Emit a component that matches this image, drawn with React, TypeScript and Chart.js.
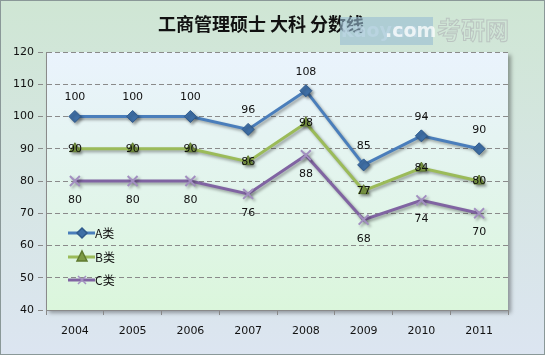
import React, { useEffect, useRef } from "react";
import { Chart, registerables } from "chart.js";

Chart.register(...registerables);

const categories = ["2004", "2005", "2006", "2007", "2008", "2009", "2010", "2011"];
const seriesA = [100, 100, 100, 96, 108, 85, 94, 90];
const seriesB = [90, 90, 90, 86, 98, 77, 84, 80];
const seriesC = [80, 80, 80, 76, 88, 68, 74, 70];
const seriesNames = ["A类", "B类", "C类"];
const titleText = "工商管理硕士 大科 分数线";
const yMin = 40;
const yMax = 120;
const yStep = 10;

const FONT = "'DejaVu Sans', sans-serif";

const bgPlugin = {
  id: "bgPlugin",
  beforeDraw(chart: any) {
    const { ctx, width, height, chartArea } = chart;
    ctx.save();
    const g = ctx.createLinearGradient(0, 0, 0, height);
    g.addColorStop(0, "#cfe6d4");
    g.addColorStop(1, "#dce5f1");
    ctx.fillStyle = g;
    ctx.fillRect(0, 0, width, height);
    ctx.strokeStyle = "#8a9898";
    ctx.lineWidth = 1;
    ctx.strokeRect(0.5, 0.5, width - 1, height - 1);
    const { left, top, right, bottom } = chartArea;
    ctx.shadowColor = "rgba(0,0,0,0.35)";
    ctx.shadowOffsetX = 3;
    ctx.shadowOffsetY = 3;
    ctx.shadowBlur = 4;
    const pg = ctx.createLinearGradient(0, top, 0, bottom);
    pg.addColorStop(0, "#eaf3fd");
    pg.addColorStop(1, "#dbf6dc");
    ctx.fillStyle = pg;
    ctx.fillRect(left, top, right - left, bottom - top);
    ctx.restore();
    ctx.save();
    ctx.fillStyle = "#111";
    ctx.font = "bold 18px 'Noto Sans CJK SC', sans-serif";
    ctx.textAlign = "center";
    ctx.textBaseline = "middle";
    ctx.fillText(titleText, 261, 24);
    ctx.restore();
  },
  beforeDatasetDraw(chart: any) {
    const ctx = chart.ctx;
    ctx.save();
    ctx.shadowColor = "rgba(0,0,0,0.35)";
    ctx.shadowOffsetX = 2;
    ctx.shadowOffsetY = 2;
    ctx.shadowBlur = 3;
  },
  afterDatasetDraw(chart: any) {
    chart.ctx.restore();
  },
  afterDatasetsDraw(chart: any) {
    const { ctx, chartArea } = chart;
    const offsets = [-19, 0, 19];
    ctx.save();
    ctx.font = "11px " + FONT;
    ctx.fillStyle = "#111";
    ctx.textAlign = "center";
    ctx.textBaseline = "middle";
    chart.data.datasets.forEach((ds: any, i: number) => {
      const meta = chart.getDatasetMeta(i);
      meta.data.forEach((pt: any, j: number) => {
        ctx.fillText(String(ds.data[j]), pt.x, pt.y + offsets[i]);
      });
    });
    const lx = chartArea.left + 22;
    const ys = [233, 257, 280];
    chart.data.datasets.forEach((ds: any, i: number) => {
      const y = ys[i];
      ctx.save();
      ctx.strokeStyle = ds.borderColor;
      ctx.lineWidth = 3;
      ctx.beginPath();
      ctx.moveTo(lx, y);
      ctx.lineTo(lx + 27, y);
      ctx.stroke();
      ctx.restore();
      const st = ds.pointStyle;
      ctx.save();
      ctx.fillStyle = ds.pointBackgroundColor;
      ctx.strokeStyle = ds.pointBorderColor;
      ctx.lineWidth = 1.5;
      const cx = lx + 14;
      const r = 5;
      ctx.beginPath();
      if (st === "rectRot") {
        ctx.moveTo(cx, y - r);
        ctx.lineTo(cx + r, y);
        ctx.lineTo(cx, y + r);
        ctx.lineTo(cx - r, y);
        ctx.closePath();
        ctx.fill();
        ctx.stroke();
      } else if (st === "triangle") {
        ctx.moveTo(cx, y - r - 1);
        ctx.lineTo(cx + r, y + r - 1);
        ctx.lineTo(cx - r, y + r - 1);
        ctx.closePath();
        ctx.fill();
        ctx.stroke();
      } else {
        ctx.moveTo(cx - 4, y - 4);
        ctx.lineTo(cx + 4, y + 4);
        ctx.moveTo(cx + 4, y - 4);
        ctx.lineTo(cx - 4, y + 4);
        ctx.stroke();
      }
      ctx.restore();
      ctx.fillStyle = "#111";
      ctx.textAlign = "left";
      ctx.font = "12px 'Noto Sans CJK SC', " + FONT;
      ctx.fillText(ds.label, lx + 27, y);
    });
    ctx.restore();
  },
  afterDraw(chart: any) {
    const ctx = chart.ctx;
    ctx.save();
    ctx.globalAlpha = 0.6;
    ctx.fillStyle = "#98bcd2";
    ctx.fillRect(340, 17, 93, 28);
    ctx.globalAlpha = 0.75;
    ctx.font = "bold 19px " + FONT;
    ctx.textBaseline = "middle";
    ctx.textAlign = "left";
    ctx.fillStyle = "#bcd6e4";
    ctx.fillText("kaoyan", 341, 32);
    ctx.fillStyle = "#ffffff";
    ctx.fillText(".com", 385, 32);
    ctx.globalAlpha = 0.8;
    ctx.font = "bold 24px 'Noto Sans CJK SC', sans-serif";
    ctx.strokeStyle = "#b5bcbc";
    ctx.lineWidth = 1;
    ctx.strokeText("考研网", 437, 30);
    ctx.restore();
  },
};

export default function App() {
  const ref = useRef<HTMLCanvasElement>(null);
  useEffect(() => {
    document.body.style.margin = "0";
    const canvas = ref.current!;
    const chart = new Chart(canvas, {
      type: "line",
      data: {
        labels: categories,
        datasets: [
          {
            label: seriesNames[0],
            data: seriesA,
            borderColor: "#4a7ebb",
            backgroundColor: "#4a7ebb",
            pointStyle: "rectRot",
            pointRadius: 6,
            pointBackgroundColor: "#3f6fa6",
            pointBorderColor: "#2f5a8c",
            pointBorderWidth: 1,
            borderWidth: 3,
            tension: 0,
          },
          {
            label: seriesNames[1],
            data: seriesB,
            borderColor: "#9bbb59",
            backgroundColor: "#9bbb59",
            pointStyle: "triangle",
            pointRadius: 6,
            pointBackgroundColor: "#7d9a45",
            pointBorderColor: "#5f7a2f",
            pointBorderWidth: 1,
            borderWidth: 3,
            tension: 0,
          },
          {
            label: seriesNames[2],
            data: seriesC,
            borderColor: "#8064a2",
            backgroundColor: "#8064a2",
            pointStyle: "crossRot",
            pointRadius: 7,
            pointBackgroundColor: "#a28fc0",
            pointBorderColor: "#a28fc0",
            pointBorderWidth: 2,
            borderWidth: 3,
            tension: 0,
          },
        ],
      },
      options: {
        animation: false,
        responsive: false,
        devicePixelRatio: 1,
        layout: { padding: { left: 0, right: 37, top: 52, bottom: 0 } },
        plugins: {
          legend: { display: false },
          title: { display: false },
          tooltip: { enabled: false },
        },
        scales: {
          x: {
            offset: true,
            grid: {
              offset: true,
              drawOnChartArea: false,
              drawTicks: true,
              tickLength: 5,
              color: "#888",
            },
            border: { display: true, color: "#8a8a8a", width: 1 },
            ticks: { color: "#111", font: { size: 11, family: FONT }, padding: 10 },
            afterFit: (s: any) => {
              s.height = 45;
            },
          },
          y: {
            min: yMin,
            max: yMax,
            ticks: {
              stepSize: yStep,
              color: "#111",
              font: { size: 11, family: FONT },
              padding: 4,
            },
            grid: {
              color: "#8a8a8a",
              tickLength: 8,
              tickBorderDash: [5, 3],
            },
            border: { display: true, color: "#8a8a8a", width: 1, dash: [5, 3] },
            afterFit: (s: any) => {
              s.width = 46;
            },
          },
        },
      },
      plugins: [bgPlugin],
    });
    return () => chart.destroy();
  }, []);
  return <canvas ref={ref} width={545} height={355} style={{ display: "block" }} />;
}
